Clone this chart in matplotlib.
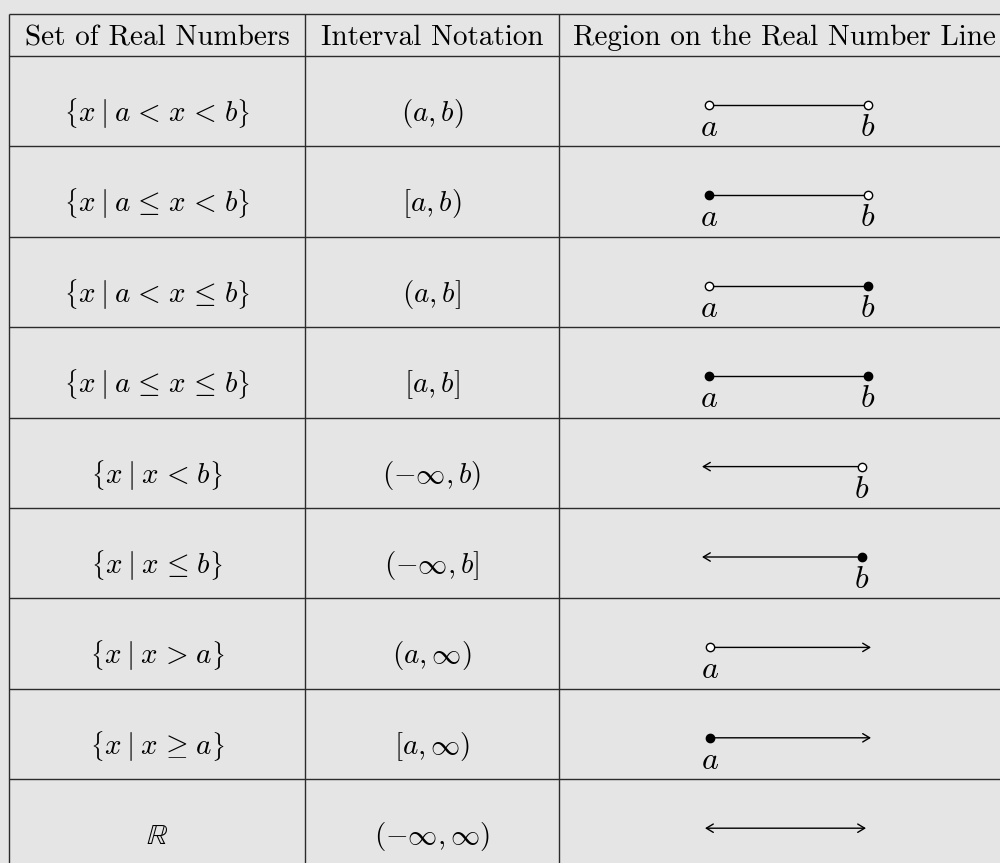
import matplotlib.pyplot as plt
from matplotlib.patches import FancyArrowPatch

plt.rcParams['mathtext.fontset'] = 'cm'

# table content
headers = ['Set of Real Numbers', 'Interval Notation', 'Region on the Real Number Line']
set_labels = [r'$\left\{x\:|\:a\hspace{0.12}<\hspace{0.12}x\hspace{0.12}<\hspace{0.12}b\right\}$',
              r'$\left\{x\:|\:a\hspace{0.12}\leq\hspace{0.12}x\hspace{0.12}<\hspace{0.12}b\right\}$',
              r'$\left\{x\:|\:a\hspace{0.12}<\hspace{0.12}x\hspace{0.12}\leq\hspace{0.12}b\right\}$',
              r'$\left\{x\:|\:a\hspace{0.12}\leq\hspace{0.12}x\hspace{0.12}\leq\hspace{0.12}b\right\}$',
              r'$\left\{x\:|\:x\hspace{0.12}<\hspace{0.12}b\right\}$',
              r'$\left\{x\:|\:x\hspace{0.12}\leq\hspace{0.12}b\right\}$',
              r'$\left\{x\:|\:x\hspace{0.12}>\hspace{0.12}a\right\}$',
              r'$\left\{x\:|\:x\hspace{0.12}\geq\hspace{0.12}a\right\}$',
              r'$\mathbb{R}$']
interval_labels = [r'$(a,b)$', r'$[a,b)$', r'$(a,b]$', r'$[a,b]$', r'$(-\infty,b)$',
                   r'$(-\infty,b]$', r'$(a,\infty)$', r'$[a,\infty)$', r'$(-\infty,\infty)$']
left_end = ['open', 'closed', 'open', 'closed', 'inf', 'inf', 'open', 'closed', 'inf']
right_end = ['open', 'open', 'closed', 'closed', 'open', 'closed', 'inf', 'inf', 'inf']

# layout (pixels, y downwards)
bg = '#e5e5e5'
grid_color = '#2b2b2b'
col_edges = [8.7, 305, 558.7, 1009]
col_centers = [157, 432, 784]
top_y = 14
header_bottom = 56
row_h = 90.4
fs = 21


def line_span(left, right):
    # x positions of the segment ends, depending on which ends are infinite
    if left != 'inf' and right != 'inf':
        return 709, 868
    if left == 'inf' and right != 'inf':
        return 702, 862
    if left != 'inf' and right == 'inf':
        return 710, 871
    return 705, 866


fig = plt.figure(figsize=(10, 8.63), dpi=100, facecolor=bg)
ax = fig.add_axes([0, 0, 1, 1])
ax.set_facecolor(bg)
ax.set_xlim(0, 1000)
ax.set_ylim(863, 0)
ax.axis('off')

n_rows = len(set_labels)
row_tops = [header_bottom + i * row_h for i in range(n_rows)]
bottom_y = header_bottom + n_rows * row_h

# grid
for y in [top_y, header_bottom] + [t + row_h for t in row_tops]:
    ax.plot([col_edges[0], col_edges[-1]], [y, y], color=grid_color, lw=1.0, solid_capstyle='butt')
for x in col_edges:
    ax.plot([x, x], [top_y, bottom_y], color=grid_color, lw=1.0, solid_capstyle='butt')

# headers
for cx, h in zip(col_centers, headers):
    ax.text(cx, 45, h, ha='center', va='baseline', fontsize=fs, family='cmr10')

for i in range(n_rows):
    t = row_tops[i]
    ax.text(col_centers[0], t + 65, set_labels[i], ha='center', va='baseline', fontsize=fs)
    ax.text(col_centers[1], t + 65, interval_labels[i], ha='center', va='baseline', fontsize=fs)

    # number line
    left, right = left_end[i], right_end[i]
    x0, x1 = line_span(left, right)
    yl = t + 49
    if left == 'inf' or right == 'inf':
        if left == 'inf' and right == 'inf':
            style, pa, pb = '<->', (x0, yl), (x1, yl)
        elif left == 'inf':
            style, pa, pb = '->', (x1, yl), (x0, yl)
        else:
            style, pa, pb = '->', (x0, yl), (x1, yl)
        ax.add_patch(FancyArrowPatch(pa, pb, arrowstyle=style + ',head_length=0.5,head_width=0.3',
                                     mutation_scale=10, lw=1.0, color='black',
                                     shrinkA=0, shrinkB=0))
    else:
        ax.plot([x0, x1], [yl, yl], color='black', lw=1.0)
    for end, xe, lab in [(left, x0, '$a$'), (right, x1, '$b$')]:
        if end == 'inf':
            continue
        face = 'white' if end == 'open' else 'black'
        ax.plot(xe, yl, 'o', ms=6, mfc=face, mec='black', mew=1.0, zorder=5)
        ax.text(xe, t + 80, lab, ha='center', va='baseline', fontsize=23)

fig.savefig('out.png', dpi=100, facecolor=bg)
